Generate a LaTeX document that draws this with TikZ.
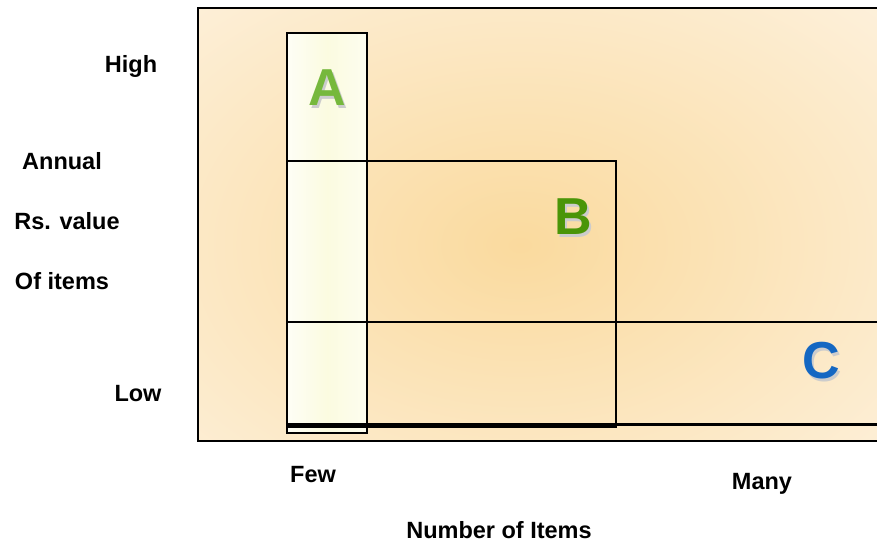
\documentclass[tikz,border=0pt]{standalone}
\usepackage{fontspec}
\setmainfont{Liberation Sans}
\usetikzlibrary{positioning, calc}
\definecolor{peachout}{HTML}{FDF0DA}
\definecolor{peachin}{HTML}{FADA9E}
\definecolor{ivory}{HTML}{FBFBE0}
\definecolor{greenA}{HTML}{76B83C}
\definecolor{greenB}{HTML}{4A9508}
\definecolor{blueC}{HTML}{1467C2}

\begin{document}
\begin{tikzpicture}[
  x=1pt, y=-1pt,
  every node/.style={font=\fontsize{23.5}{26}\selectfont\bfseries, inner sep=0pt},
  zone/.style  = {draw=black, line width=2.3pt},
  axis/.style  = {anchor=center},
  letter/.style = {font=\fontsize{52}{56}\selectfont\bfseries},
]
  \useasboundingbox (0,0) rectangle (877,545);
  % background with soft centre
  \fill[peachout] (198,8) rectangle (885,441);
  \begin{scope}
    \clip (198,8) rectangle (885,441);
    \shade[inner color=peachin, outer color=peachout] (520,245) ellipse [x radius=500, y radius=340];
  \end{scope}
  \shade[left color=white!70!ivory, right color=white!50!ivory, middle color=ivory] (287,33) rectangle (367,433);
  % outlines
  \draw[zone] (198,8) rectangle (885,441);
  \draw[zone] (287,33) rectangle (367,433);
  \draw[zone] (287,161) rectangle (616,426.5);
  \draw[zone] (287,322) rectangle (885,424.5);
  % class letters with shadow
  \foreach \t/\c/\x/\y in {A/greenA/327/88, B/greenB/573/217, C/blueC/821/361}{
    \node[letter, gray!40] at (\x+2.5,\y+2.5) {\t};
    \node[letter, text=\c] (lt\t) at (\x,\y) {\t};
  }
  % axis texts
  \node[axis] (high)  at (131,66)  {High};
  \node[axis] (ann)   at (62,161)  {Annual};
  \node[axis] (rsv)   at (67,221)  {Rs. value};
  \node[axis] (ofit)  at (62,281)  {Of items};
  \node[axis] (low)   at (138,394) {Low};
  \node[axis] (few)   at (313,475) {Few};
  \node[axis] (many)  at (762,484) {Many};
  \node[axis] (numit) at (499,530) {Number of Items};
\end{tikzpicture}
\end{document}
